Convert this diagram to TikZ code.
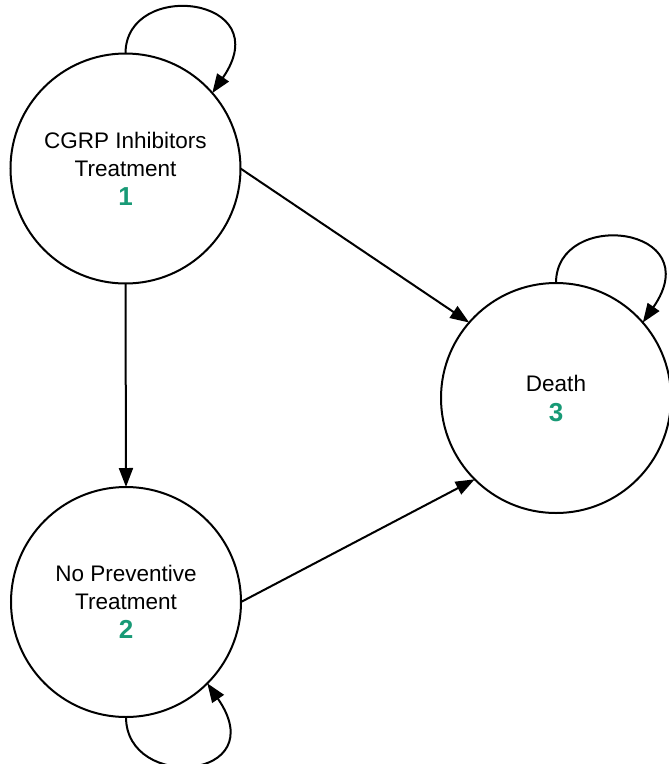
\documentclass[tikz,border=0pt]{standalone}
\usepackage{fontspec}
\setmainfont{Liberation Sans}
\usetikzlibrary{arrows.meta}
\definecolor{numgreen}{RGB}{24,154,118}
\tikzset{
  state/.style={draw=black, line width=2pt, circle, minimum size=230pt, inner sep=0pt, outer sep=0pt,
    align=center, font=\fontsize{22.5}{28}\selectfont},
  arr/.style={line width=2pt, -{Triangle[length=19pt,width=14pt]}},
}
\newcommand{\numlbl}[1]{{\fontsize{26}{29}\selectfont\bfseries\color{numgreen}#1}}
\begin{document}
\begin{tikzpicture}[x=1pt,y=-1pt]
\useasboundingbox[fill=white] (0,0) rectangle (669,764);
\node[state] (c1) at (125.5,168.5) {CGRP Inhibitors\\Treatment\\[1pt]\numlbl{1}};
\node[state] (c2) at (126,602) {No Preventive\\Treatment\\[1pt]\numlbl{2}};
\node[state] (c3) at (556,398) {Death\\[2pt]\numlbl{3}};
\draw[arr] (c1.south) -- (c2.north);
\draw[arr] (c1.east) -- (c3.139);
\draw[arr] (c2.east) -- (c3.225);
\draw[arr] (c1.90) .. controls +(0,-75) and +(67,-97) .. (c1.41);
\draw[arr] (c3.90) .. controls +(0,-75) and +(67,-97) .. (c3.41);
\draw[arr] (c2.270) .. controls +(0,75) and +(67,97) .. (c2.-45);
\end{tikzpicture}
\end{document}
